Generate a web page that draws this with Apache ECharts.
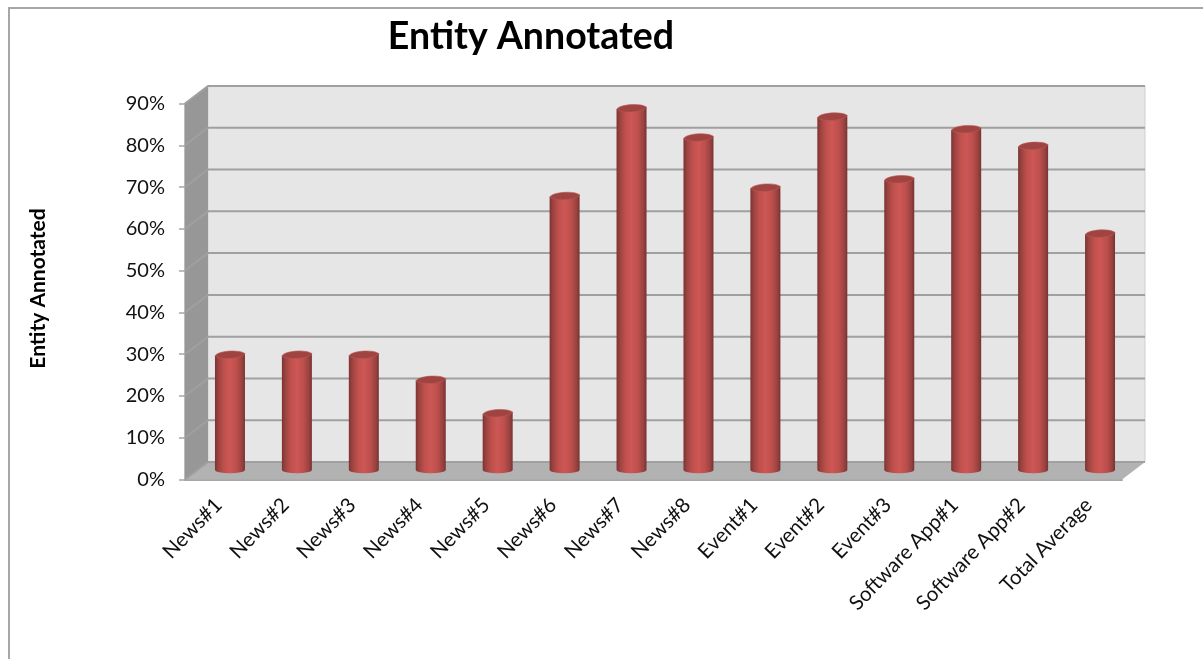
<!DOCTYPE html>
<html>
<head>
<meta charset="utf-8">
<style>
html,body{margin:0;padding:0;background:#fff;}
#chart{width:1203px;height:659px;}
</style>
<script src="https://cdn.jsdelivr.net/npm/echarts@6/dist/echarts.min.js"></script>
</head>
<body>
<div id="chart"></div>
<script>
const categories = ['News#1','News#2','News#3','News#4','News#5','News#6','News#7','News#8','Event#1','Event#2','Event#3','Software App#1','Software App#2','Total Average'];
const annotated = [28,28,28,22,14,66,87,80,68,85,70,82,78,57];
const yTicks = [0,10,20,30,40,50,60,70,80,90];

const depthX = 23, depthY = -17.5;
const chart = echarts.init(document.getElementById('chart'));

// Walls, floor and gridlines of the pseudo-3D box, placed through the value axis
function renderBox(params, api) {
  const y0 = api.coord([0, 0])[1];
  const y90 = api.coord([0, 90])[1];
  const rightX = params.coordSys.x + params.coordSys.width;
  const leftX = params.coordSys.x;
  const children = [
    {type:'polygon', shape:{points:[[leftX+depthX,y90+depthY],[rightX+depthX,y90+depthY],[rightX+depthX,y0+depthY],[leftX+depthX,y0+depthY]]},
      style:{fill:'#e6e6e6', stroke:'#d0d0d0', lineWidth:1}},
    {type:'polygon', shape:{points:[[leftX,y90],[leftX+depthX,y90+depthY],[leftX+depthX,y0+depthY],[leftX,y0]]},
      style:{fill:'#979797'}},
    {type:'polygon', shape:{points:[[leftX,y0],[leftX+depthX,y0+depthY],[rightX+depthX,y0+depthY],[rightX,y0]]},
      style:{fill:'#b2b2b2'}}
  ];
  yTicks.forEach(v => {
    const y = api.coord([0, v])[1];
    children.push({type:'polyline', shape:{points:[[leftX,y],[leftX+depthX,y+depthY],[rightX+depthX,y+depthY]]},
      style:{fill:null, stroke:'#a0a0a0', lineWidth:2}});
  });
  return {type:'group', children};
}

// A cylinder standing halfway into the box depth, with a slightly tilted top cap
function renderCylinder(params, api) {
  const idx = api.value(0), val = api.value(1);
  const base = api.coord([idx, 0]);
  const top = api.coord([idx, val]);
  const cx = base[0] + depthX/2, by = base[1] + depthY/2 - 1, ty = top[1] + depthY/2 + 1;
  const rx = 15, ry = 4.8, bry = 3.6, tilt = 1.2;
  const body = new echarts.graphic.LinearGradient(0,0,1,0,[
    {offset:0,color:'#7d3331'},{offset:0.12,color:'#9c4441'},{offset:0.3,color:'#c0504d'},
    {offset:0.5,color:'#cd5754'},{offset:0.72,color:'#bd4f4c'},{offset:0.9,color:'#984240'},{offset:1,color:'#793230'}
  ]);
  const path = `M${cx-rx} ${ty+tilt} L${cx-rx} ${by} A${rx} ${bry} 0 0 0 ${cx+rx} ${by} L${cx+rx} ${ty-tilt} Z`;
  const capPath = `M${cx-rx} ${ty+tilt} C${cx-rx+2} ${ty-ry+1} ${cx+rx-6} ${ty-ry-1} ${cx+rx} ${ty-tilt} `
    + `C${cx+rx-2} ${ty+ry-1} ${cx-rx+6} ${ty+ry+1} ${cx-rx} ${ty+tilt} Z`;
  return {type:'group', children:[
    {type:'path', shape:{pathData:path}, style:{fill:body}},
    {type:'path', shape:{pathData:capPath}, style:{fill:'#a04441', stroke:'#b85a57', lineWidth:0.6}}
  ]};
}

chart.setOption({
  animation:false,
  backgroundColor:'#fff',
  title:{text:'Entity Annotated', left:526, top:12.5, textAlign:'center',
    textStyle:{fontFamily:'Lato', fontSize:37.5, fontWeight:'bold', color:'#000'}},
  grid:{left:185, top:103.5, width:937, height:376, containLabel:false},
  xAxis:{type:'category', data:categories, boundaryGap:true,
    axisLine:{lineStyle:{color:'#a6a6a6', width:2}},
    axisTick:{alignWithLabel:false, length:7, lineStyle:{color:'#a6a6a6', width:1.5}},
    axisLabel:{rotate:46, interval:0, margin:22, fontFamily:'Lato', fontSize:20.5, color:'#111'}},
  yAxis:{type:'value', min:0, max:90, interval:10,
    name:'Entity Annotated', nameLocation:'middle', nameGap:136, nameRotate:90,
    nameTextStyle:{fontFamily:'Lato', fontSize:21, fontWeight:'bold', color:'#000', padding:[0,0,0,6]},
    axisLine:{show:true, lineStyle:{color:'#a6a6a6', width:1.5}},
    axisTick:{show:true, length:6, lineStyle:{color:'#a6a6a6', width:1.5}},
    splitLine:{show:false},
    axisLabel:{formatter:'{value}%', margin:20, padding:[2,0,0,0], fontFamily:'Lato', fontSize:20, color:'#111'}},
  graphic:[
    {type:'polyline', silent:true, shape:{points:[[9,659],[9,8],[1203,8]]}, style:{fill:null, stroke:'#a6a6a6', lineWidth:2}}
  ],
  series:[
    {type:'custom', renderItem:renderBox, data:[[0]], silent:true, z:1, clip:false},
    {type:'custom', renderItem:renderCylinder, encode:{x:0,y:1}, z:3, clip:false,
      data:annotated.map((v,i)=>[i,v])}
  ]
});
</script>
</body>
</html>
